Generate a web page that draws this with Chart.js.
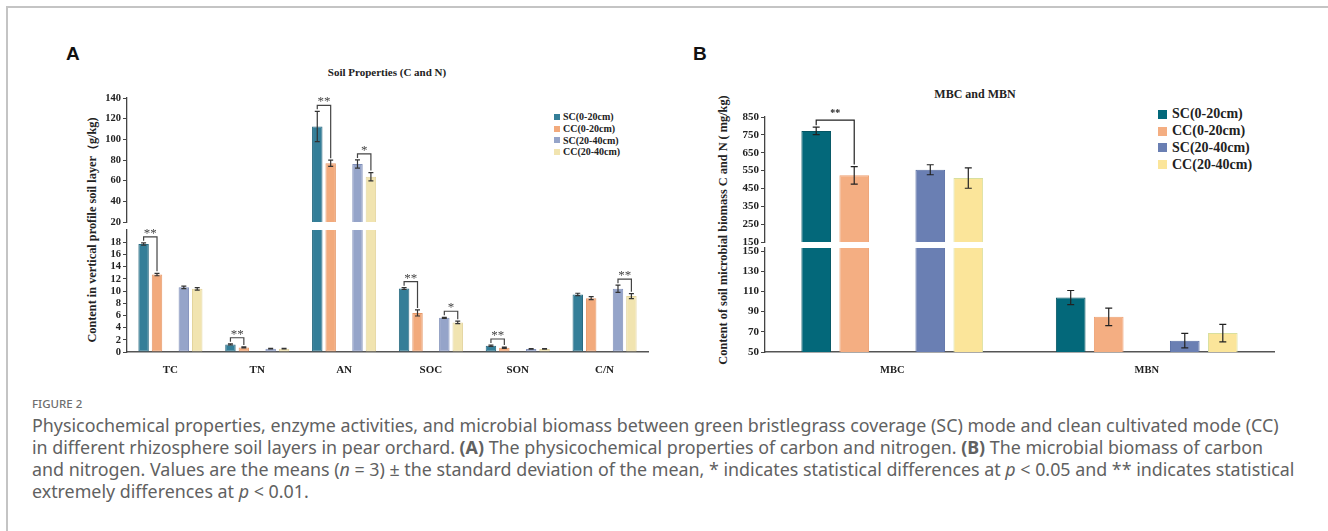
<!DOCTYPE html>
<html>
<head>
<meta charset="utf-8">
<script src="https://cdn.jsdelivr.net/npm/chart.js@4.4.1/dist/chart.umd.min.js"></script>
<style>
    body { margin: 0; width: 1328px; height: 531px; overflow: hidden; position: relative; background: #fff; }
    canvas { position: absolute; }
    .frame-top { position: absolute; left: 6px; top: 6px; width: 1322px; height: 2px; background: #c4c4c4; }
    .frame-left { position: absolute; left: 6px; top: 6px; width: 2px; height: 525px; background: #c4c4c4; }
    .letter { position: absolute; font: bold 19px 'Liberation Sans', Arial, sans-serif; color: #111; }
    .title { position: absolute; font-family: 'Liberation Serif', serif; font-weight: bold; color: #222; white-space: nowrap; transform: translate(-50%, -50%); }
    .ytitle { position: absolute; font: bold 12.3px 'Liberation Serif', serif; color: #222; white-space: nowrap; transform: translate(-50%, -50%) rotate(-90deg); }
    .legend { position: absolute; font-family: 'Liberation Serif', serif; font-weight: bold; color: #222; }
    .legend div { display: flex; align-items: center; white-space: nowrap; }
    .legend span.sw { display: inline-block; }
    .fig { position: absolute; left: 32px; top: 396px; font: 500 11.5px 'Noto Sans', sans-serif; color: #6e6e6e; }
    .cap { position: absolute; left: 32px; font: 17.85px 'Noto Sans', sans-serif; color: #616161; white-space: nowrap; }
</style>
</head>
<body>
<div class="frame-top"></div>
<div class="frame-left"></div>

<div class="letter" style="left:66px;top:43px">A</div>
<div class="letter" style="left:693px;top:43px">B</div>

<div class="title" style="left:387px;top:72px;font-size:11px">Soil Properties (C and N)</div>
<div class="title" style="left:975px;top:94px;font-size:12px">MBC and MBN</div>

<div class="ytitle" style="left:92px;top:230px">Content in vertical profile soil layer（g/kg)</div>
<div class="ytitle" style="left:723px;top:230px">Content of soil microbial biomass C and N ( mg/kg)</div>

<div class="legend" id="legendA" style="left:554px;top:111px;font-size:10px"></div>
<div class="legend" id="legendB" style="left:1158px;top:106px;font-size:14px"></div>

<canvas id="aUpper"></canvas>
<canvas id="aLower"></canvas>
<canvas id="bUpper"></canvas>
<canvas id="bLower"></canvas>

<div class="fig">FIGURE 2</div>
<div class="cap" style="top:413px">Physicochemical properties, enzyme activities, and microbial biomass between green bristlegrass coverage (SC) mode and clean cultivated mode (CC)</div>
<div class="cap" style="top:435px">in different rhizosphere soil layers in pear orchard. <b>(A)</b> The physicochemical properties of carbon and nitrogen. <b>(B)</b> The microbial biomass of carbon</div>
<div class="cap" style="top:457px">and nitrogen. Values are the means (<i>n</i> = 3) ± the standard deviation of the mean, * indicates statistical differences at <i>p</i> &lt; 0.05 and ** indicates statistical</div>
<div class="cap" style="top:479px">extremely differences at <i>p</i> &lt; 0.01.</div>

<script>
// series names (same for both panels)
const seriesNames = ['SC(0-20cm)', 'CC(0-20cm)', 'SC(20-40cm)', 'CC(20-40cm)'];

// Panel A : soil properties, g/kg
const categoriesA = ['TC', 'TN', 'AN', 'SOC', 'SON', 'C/N'];
const scTopA = [17.7, 1.25, 112.4, 10.4, 1.03, 9.43];
const ccTopA = [12.7, 0.75, 76.8, 6.4, 0.7, 8.83];
const scDeepA = [10.6, 0.55, 76.1, 5.6, 0.5, 10.36];
const ccDeepA = [10.35, 0.55, 63.8, 4.85, 0.5, 9.16];
const scTopErrA = [0.2, 0.1, 14.7, 0.15, 0.12, 0.2];
const ccTopErrA = [0.2, 0.08, 3, 0.5, 0.1, 0.25];
const scDeepErrA = [0.2, 0.05, 4, 0.1, 0.05, 0.6];
const ccDeepErrA = [0.2, 0.05, 4, 0.2, 0.05, 0.4];
const ticksUpperA = [20, 40, 60, 80, 100, 120, 140];
const ticksLowerA = [0, 2, 4, 6, 8, 10, 12, 14, 16, 18];
const rangeUpperA = [20, 140];
const rangeLowerA = [0, 20];
// significance marks: category, pair of series, mark
const sigA = [
    ['TC', 0, 1, '**'], ['TN', 0, 1, '**'], ['AN', 0, 1, '**'], ['AN', 2, 3, '*'],
    ['SOC', 0, 1, '**'], ['SOC', 2, 3, '*'], ['SON', 0, 1, '**'], ['C/N', 2, 3, '**']
];

// Panel B : microbial biomass, mg/kg
const categoriesB = ['MBC', 'MBN'];
const scTopB = [772, 103.9];
const ccTopB = [523.5, 84.8];
const scDeepB = [554.7, 61.2];
const ccDeepB = [508, 68.7];
const scTopErrB = [21, 7];
const ccTopErrB = [49, 8.7];
const scDeepErrB = [28, 7.2];
const ccDeepErrB = [57, 8.6];
const ticksUpperB = [150, 250, 350, 450, 550, 650, 750, 850];
const ticksLowerB = [50, 70, 90, 110, 130, 150];
const rangeUpperB = [150, 850];
const rangeLowerB = [50, 153];
const sigB = [['MBC', 0, 1, '**']];

// colours
const fillA = ['#347E98', '#F2AA7C', '#95A4C9', '#F1E4B0'];
const lineA = ['#2A6A80', '#E6996A', '#8190BA', '#E3D49C'];
const fillB = ['#03687A', '#F4AE82', '#6A7FB3', '#FBE59A'];
const lineB = ['#045563', '#EDA072', '#566CA2', '#D8DF9E'];

// layout
const PAD = 10;
const Y_AXIS_W = 45;
const X_AXIS_H = 30;

Chart.defaults.font.family = "'Liberation Serif', 'Times New Roman', serif";
Chart.defaults.font.weight = 'bold';
Chart.defaults.color = '#222';

// legends (html)
function buildLegend(id, colors, sw, rowH) {
    const box = document.getElementById(id);
    seriesNames.forEach((name, i) => {
        const row = document.createElement('div');
        row.style.height = rowH + 'px';
        const s = document.createElement('span');
        s.className = 'sw';
        s.style.width = sw + 'px';
        s.style.height = sw + 'px';
        s.style.background = colors[i];
        s.style.marginRight = Math.round(sw * 0.55) + 'px';
        row.appendChild(s);
        row.appendChild(document.createTextNode(name));
        box.appendChild(row);
    });
}
buildLegend('legendA', fillA, 6, 11.7);
buildLegend('legendB', fillB, 9, 16.8);

// error bars
const errorBarPlugin = {
    id: 'errorBars',
    afterDatasetsDraw(chart, args, opts) {
        const ctx = chart.ctx;
        const area = chart.chartArea;
        const y = chart.scales.y;
        ctx.save();
        ctx.beginPath();
        ctx.rect(area.left, area.top, area.right - area.left, area.bottom - area.top);
        ctx.clip();
        ctx.strokeStyle = opts.color;
        ctx.lineWidth = opts.width;
        chart.data.datasets.forEach((ds, di) => {
            if (!ds.errors) return;
            chart.getDatasetMeta(di).data.forEach((bar, i) => {
                const v = ds.data[i];
                const e = ds.errors[i];
                const x = bar.x;
                const y1 = y.getPixelForValue(v + e);
                const y2 = y.getPixelForValue(v - e);
                ctx.beginPath();
                ctx.moveTo(x, y1); ctx.lineTo(x, y2);
                ctx.moveTo(x - opts.cap, y1); ctx.lineTo(x + opts.cap, y1);
                ctx.moveTo(x - opts.cap, y2); ctx.lineTo(x + opts.cap, y2);
                ctx.stroke();
            });
        });
        ctx.restore();
    }
};

// significance brackets
const SERIES_TO_DATASET = [0, 1, 3, 4];
const bracketPlugin = {
    id: 'brackets',
    afterDatasetsDraw(chart, args, opts) {
        const ctx = chart.ctx;
        const y = chart.scales.y;
        const labels = chart.data.labels;
        ctx.save();
        ctx.strokeStyle = opts.color;
        ctx.fillStyle = opts.color;
        ctx.lineWidth = 1.2;
        ctx.font = opts.font;
        ctx.textAlign = 'center';
        ctx.textBaseline = 'alphabetic';
        opts.marks.forEach(([cat, a, b, mark]) => {
            const i = labels.indexOf(cat);
            const dsA = chart.data.datasets[SERIES_TO_DATASET[a]];
            const dsB = chart.data.datasets[SERIES_TO_DATASET[b]];
            const topA = dsA.data[i] + dsA.errors[i];
            const topB = dsB.data[i] + dsB.errors[i];
            const hi = Math.max(topA, topB);
            if (hi < y.min || hi > y.max) return;
            const barA = chart.getDatasetMeta(SERIES_TO_DATASET[a]).data[i];
            const barB = chart.getDatasetMeta(SERIES_TO_DATASET[b]).data[i];
            const pA = y.getPixelForValue(topA);
            const pB = y.getPixelForValue(topB);
            const h = Math.min(pA, pB) - opts.rise;
            ctx.beginPath();
            ctx.moveTo(barA.x, pA - 2);
            ctx.lineTo(barA.x, h);
            ctx.lineTo(barB.x, h);
            ctx.lineTo(barB.x, pB - 2);
            ctx.stroke();
            ctx.fillText(mark, (barA.x + barB.x) / 2, h - opts.gap);
        });
        ctx.restore();
    }
};

function makeDatasets(values, errors, fill, line) {
    const ds = values.map((v, k) => ({
        label: seriesNames[k],
        data: v,
        errors: errors[k],
        backgroundColor: fill[k],
        borderColor: line[k],
        borderWidth: 1,
        borderSkipped: false,
        clip: 0
    }));
    // empty slot between the 0-20cm and 20-40cm pairs
    ds.splice(2, 0, { label: '', data: values[0].map(() => null), clip: 0 });
    return ds;
}

function makeChart(id, area, panel, showX) {
    const el = document.getElementById(id);
    const left = area.l - Y_AXIS_W - PAD;
    const top = area.t - PAD;
    el.width = area.r + PAD - left;
    el.height = area.b + (showX ? X_AXIS_H : 0) + PAD - top;
    el.style.left = left + 'px';
    el.style.top = top + 'px';

    const xScale = {
        display: showX,
        grid: { display: false, drawTicks: false },
        border: { display: true, color: '#555', width: 1.4 },
        ticks: { padding: 12, font: { size: panel.xFont } }
    };
    if (showX) xScale.afterFit = s => { s.height = X_AXIS_H; };

    return new Chart(el, {
        type: 'bar',
        data: {
            labels: panel.categories,
            datasets: makeDatasets(panel.values, panel.errors, panel.fill, panel.line)
        },
        options: {
            responsive: false,
            animation: false,
            layout: { padding: PAD },
            datasets: {
                bar: { barPercentage: 0.78, categoryPercentage: panel.catPct }
            },
            plugins: {
                legend: { display: false },
                tooltip: { enabled: false },
                errorBars: { color: panel.errColor, width: 1.2, cap: panel.cap },
                brackets: { color: panel.sigColor, font: panel.sigFont, marks: panel.marks, rise: panel.rise, gap: panel.gap }
            },
            scales: {
                x: xScale,
                y: {
                    min: panel.range[0],
                    max: panel.range[1],
                    grid: { display: true, drawOnChartArea: false, drawTicks: true, tickLength: 4, color: '#444', lineWidth: 1 },
                    border: { display: true, color: '#444', width: 1.3 },
                    ticks: { padding: 2, autoSkip: false, font: { size: panel.yFont }, color: '#222' },
                    afterBuildTicks: s => { s.ticks = panel.ticks.map(v => ({ value: v })); },
                    afterFit: s => { s.width = Y_AXIS_W; }
                }
            }
        },
        plugins: [errorBarPlugin, bracketPlugin]
    });
}

const panelA = {
    categories: categoriesA,
    values: [scTopA, ccTopA, scDeepA, ccDeepA],
    errors: [scTopErrA, ccTopErrA, scDeepErrA, ccDeepErrA],
    fill: fillA, line: lineA,
    catPct: 0.772, cap: 2.5, errColor: '#333',
    sigColor: '#444', sigFont: 'normal 13px "Liberation Serif", serif', marks: sigA, rise: 6, gap: 0,
    xFont: 11, yFont: 10.5
};
const panelB = {
    categories: categoriesB,
    values: [scTopB, ccTopB, scDeepB, ccDeepB],
    errors: [scTopErrB, ccTopErrB, scDeepErrB, ccDeepErrB],
    fill: fillB, line: lineB,
    catPct: 0.747, cap: 3.5, errColor: '#222',
    sigColor: '#222', sigFont: 'bold 10px "Liberation Serif", serif', marks: sigB, rise: 7, gap: 4,
    xFont: 10.5, yFont: 11
};

makeChart('aUpper', { l: 127, t: 98, r: 648, b: 222 },
    Object.assign({}, panelA, { range: rangeUpperA, ticks: ticksUpperA }), false);
makeChart('aLower', { l: 127, t: 230, r: 648, b: 352 },
    Object.assign({}, panelA, { range: rangeLowerA, ticks: ticksLowerA }), true);
makeChart('bUpper', { l: 765, t: 117, r: 1274, b: 242 },
    Object.assign({}, panelB, { range: rangeUpperB, ticks: ticksUpperB }), false);
makeChart('bLower', { l: 765, t: 248, r: 1274, b: 352 },
    Object.assign({}, panelB, { range: rangeLowerB, ticks: ticksLowerB }), true);
</script>
</body>
</html>
